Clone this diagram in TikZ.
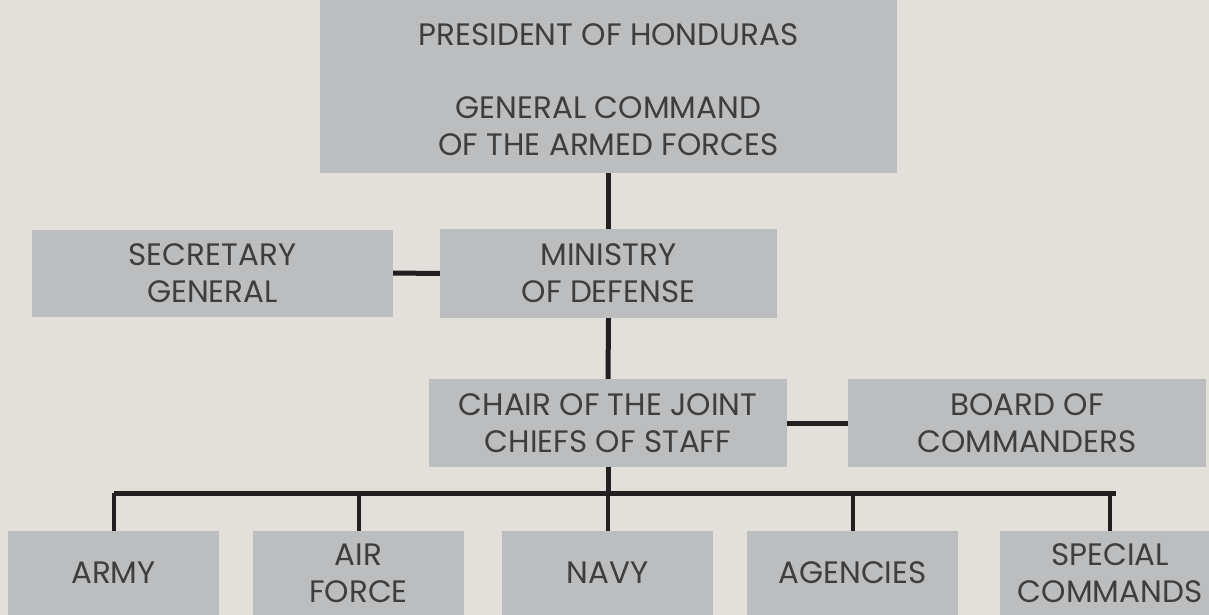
\documentclass[tikz,border=0pt]{standalone}
\usepackage{fontspec}
\setmainfont{Poppins}
\usepackage{tikz}
\definecolor{backColor}{RGB}{227,224,219}
\definecolor{boxColor}{RGB}{188,189,191}
\definecolor{lineColor}{RGB}{35,31,32}
\definecolor{textColor}{RGB}{62,62,62}
\tikzstyle{chart} = [x = 1pt, y = -1pt]
\tikzstyle{boxStyle} = [fill=boxColor, inner sep=0pt, align=center, text=textColor, font=\fontsize{31}{37}\selectfont]
\tikzstyle{linkLine} = [color=lineColor, line width=5pt]
\tikzstyle{dropLine} = [color=lineColor, line width=4pt]
\newcommand{\unitBox}[4]{\node [boxStyle, minimum width=#3pt, minimum height=84pt] (#1) at (#2, 573) {#4};}

\begin{document}
\begin{tikzpicture}[chart]
  \fill [backColor] (0,0) rectangle (1209,615);
  \useasboundingbox (0,0) rectangle (1209,615);

  \node [boxStyle, minimum width=577pt, minimum height=173pt] (president) at (608.5, 86.5) {};
  \node [boxStyle, fill=none] (presidentText) at (608.5, 90)
    {PRESIDENT OF HONDURAS\\[36pt]GENERAL COMMAND\\OF THE ARMED FORCES};
  \node [boxStyle, minimum width=361pt, minimum height=87pt] (secretary) at (212.5, 273) {SECRETARY\\GENERAL};
  \node [boxStyle, minimum width=337pt, minimum height=89pt] (ministry) at (608.5, 273.5) {MINISTRY\\OF DEFENSE};
  \node [boxStyle, minimum width=358pt, minimum height=88pt] (chair) at (608, 423) {CHAIR OF THE JOINT\\CHIEFS OF STAFF};
  \node [boxStyle, minimum width=358pt, minimum height=88pt] (board) at (1027, 423) {BOARD OF\\COMMANDERS};

  \unitBox{army}{113.5}{211}{ARMY}
  \unitBox{airforce}{358.5}{211}{AIR\\FORCE}
  \unitBox{navy}{607.5}{211}{NAVY}
  \unitBox{agencies}{852.5}{211}{AGENCIES}
  \unitBox{special}{1110}{221}{SPECIAL\\COMMANDS}

  \coordinate (busLeft) at (116, 493);
  \coordinate (busRight) at (1113, 493);
  \coordinate (busMid) at (chair.south |- busLeft);

  \draw [linkLine] (president.south) -- (ministry.north);
  \draw [linkLine] (secretary.east) -- (ministry.west);
  \draw [linkLine] (ministry.south) -- (chair.north);
  \draw [linkLine] (chair.east) -- (board.west);
  \draw [linkLine] (chair.south) -- (busMid);
  \draw [linkLine, line cap=rect] (busLeft) -- (busRight);
  \foreach \unit in {army, airforce, navy, agencies, special} {
    \draw [dropLine] (\unit.north |- busLeft) -- (\unit.north);
  }
\end{tikzpicture}
\end{document}
